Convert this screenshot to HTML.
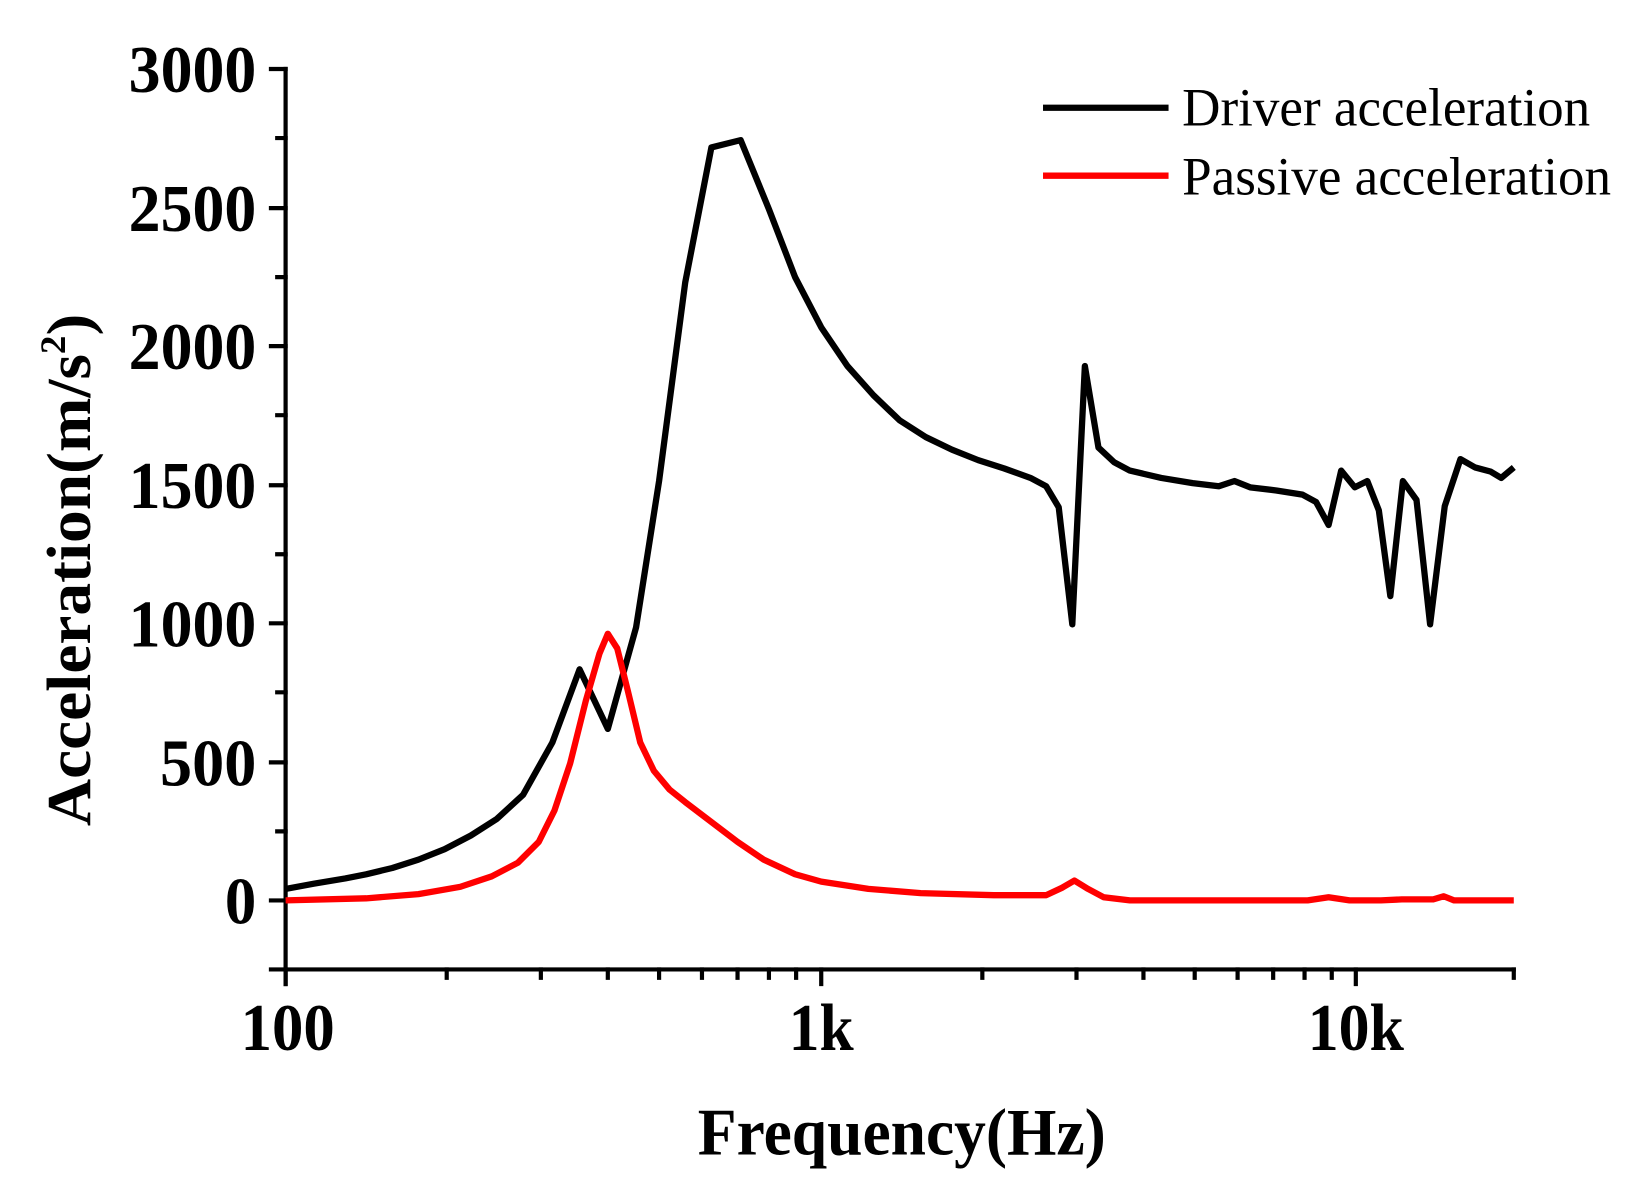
<!DOCTYPE html>
<html><head><meta charset="utf-8"><style>html,body{margin:0;padding:0;background:#fff}svg{display:block}</style></head>
<body>
<svg width="1632" height="1188" viewBox="0 0 1560 1136" preserveAspectRatio="none" xmlns="http://www.w3.org/2000/svg" font-family="Liberation Serif, serif">
<rect width="1560" height="1136" fill="#fff"/>
<g stroke="#000" stroke-width="4" fill="none" stroke-linecap="square">
<path d="M273,66 V941 M259,927 H1447"/>
<path d="M259,66H273 M259,199H273 M259,331H273 M259,464H273 M259,596H273 M259,729H273 M259,861H273"/>
<path d="M265,132H273 M265,265H273 M265,397H273 M265,530H273 M265,662H273 M265,795H273"/>
<path d="M273,927V941 M785,927V941 M1296,927V941"/>
<path d="M427,927V935 M517,927V935 M581,927V935 M630,927V935 M671,927V935 M705,927V935 M735,927V935 M761,927V935 M939,927V935 M1029,927V935 M1093,927V935 M1142,927V935 M1183,927V935 M1217,927V935 M1247,927V935 M1273,927V935 M1447,927V935"/>
</g>
<g font-weight="bold" font-size="64" text-anchor="end" lengthAdjust="spacingAndGlyphs">
<text x="245" y="88" textLength="122" lengthAdjust="spacingAndGlyphs">3000</text>
<text x="245" y="221" textLength="122" lengthAdjust="spacingAndGlyphs">2500</text>
<text x="245" y="353" textLength="122" lengthAdjust="spacingAndGlyphs">2000</text>
<text x="245" y="486" textLength="122" lengthAdjust="spacingAndGlyphs">1500</text>
<text x="245" y="618" textLength="122" lengthAdjust="spacingAndGlyphs">1000</text>
<text x="245" y="751" textLength="92" lengthAdjust="spacingAndGlyphs">500</text>
<text x="245" y="883" textLength="30" lengthAdjust="spacingAndGlyphs">0</text>
</g>
<g font-weight="bold" font-size="64" text-anchor="middle">
<text x="275" y="1004" textLength="90" lengthAdjust="spacingAndGlyphs">100</text>
<text x="785" y="1004" textLength="62" lengthAdjust="spacingAndGlyphs">1k</text>
<text x="1296" y="1004" textLength="92" lengthAdjust="spacingAndGlyphs">10k</text>
<text x="862" y="1104" textLength="390" lengthAdjust="spacingAndGlyphs">Frequency(Hz)</text>
</g>
<text transform="translate(86,545) rotate(-90)" font-weight="bold" font-size="60" text-anchor="middle" textLength="490" lengthAdjust="spacingAndGlyphs">Acceleration(m/s<tspan font-size="34" dy="-24">2</tspan><tspan dy="24">)</tspan></text>
<g stroke-width="6" fill="none" stroke-linejoin="round">
<line x1="997" y1="103" x2="1117" y2="103" stroke="#000"/>
<line x1="997" y1="168" x2="1117" y2="168" stroke="#f00"/>
<polyline stroke="#000" points="273,850 300,845 330,840 350,836 375,830 400,822 425,812 450,799 475,783 500,760 528,710 554,640 581,697 608,600 630,460 655,270 680,141 708,134 735,200 760,265 785,313 810,350 835,378 860,402 885,418 910,430 935,440 960,448 985,457 1000,465 1012,485 1025,597 1037,350 1050,428 1065,442 1080,450 1110,457 1140,462 1165,465 1180,460 1195,466 1220,469 1245,473 1258,480 1270,502 1282,450 1295,466 1307,460 1318,488 1329,570 1341,460 1354,478 1367,597 1381,484 1396,439 1410,447 1425,451 1435,457 1447,447"/>
<polyline stroke="#f00" points="273,861 350,859 400,855 440,848 470,838 495,825 515,805 530,775 545,730 560,670 573,625 581,606 590,620 600,660 612,710 625,737 640,755 655,767 680,786 705,805 730,822 760,836 785,843 830,850 880,854 950,856 1000,856 1015,849 1027,842 1040,850 1055,858 1080,861 1250,861 1270,858 1290,861 1320,861 1340,860 1370,860 1380,857 1390,861 1447,861"/>
</g>
<g font-size="52">
<text x="1130" y="120" textLength="390" lengthAdjust="spacingAndGlyphs">Driver acceleration</text>
<text x="1130" y="186" textLength="410" lengthAdjust="spacingAndGlyphs">Passive acceleration</text>
</g>
</svg>
</body></html>
